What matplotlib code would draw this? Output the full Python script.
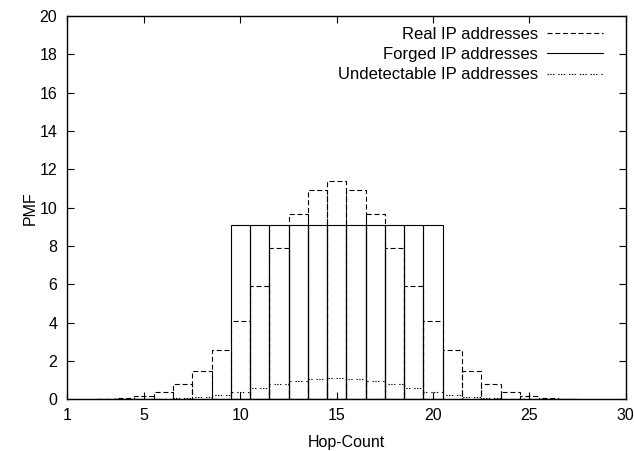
import matplotlib
matplotlib.use("Agg")
import matplotlib.pyplot as plt
from matplotlib.lines import Line2D

plt.rcParams['font.family'] = ['Liberation Sans', 'DejaVu Sans']

hops = list(range(3, 28))
real = [0.0, 0.08, 0.2, 0.4, 0.8, 1.5, 2.6, 4.1, 5.9, 7.9, 9.7, 10.9, 11.4,
        10.9, 9.7, 7.9, 5.9, 4.1, 2.6, 1.5, 0.8, 0.4, 0.2, 0.08, 0.0]
undetect = [0.0, 0.01, 0.02, 0.04, 0.08, 0.15, 0.26, 0.41, 0.59, 0.79, 0.97, 1.09, 1.14,
            1.09, 0.97, 0.79, 0.59, 0.41, 0.26, 0.15, 0.08, 0.04, 0.02, 0.01, 0.0]
forged_hops = list(range(10, 21))
forged = [9.09] * 11

x_ticks = [1, 5, 10, 15, 20, 25, 30]
y_ticks = list(range(0, 21, 2))

fig = plt.figure(figsize=(6.34, 4.51), dpi=100)
ax = fig.add_axes([0.1057, 0.1142, 0.8813, 0.8503])

lw = 0.8
ls_real = (0, (4.5, 2.5))
ls_und = (0, (1.2, 1.3, 1.2, 1.3, 1.2, 3.5))
ax.bar(hops, real, width=1, fill=False, edgecolor='black', linewidth=lw,
       linestyle=ls_real)
ax.bar(forged_hops, forged, width=1, fill=False, edgecolor='black', linewidth=lw,
       linestyle='-')
ax.bar(hops, undetect, width=1, fill=False, edgecolor='black', linewidth=lw,
       linestyle=ls_und)

fs = 11.5
lfs = 12
ax.set_xlim(1, 30)
ax.set_ylim(0, 20)
ax.set_xticks(x_ticks)
ax.set_yticks(y_ticks)
ax.tick_params(axis='both', direction='in', top=True, right=True, length=5,
               labelsize=fs, width=0.8)
ax.tick_params(axis='y', pad=7)
ax.tick_params(axis='x', pad=6)
for s in ax.spines.values():
    s.set_linewidth(1.0)
ax.set_xlabel('Hop-Count', fontsize=fs, labelpad=9)
ax.set_ylabel('PMF', fontsize=fs, labelpad=1)

handles = [Line2D([], [], color='black', lw=lw, linestyle=ls_real),
           Line2D([], [], color='black', lw=lw, linestyle='-'),
           Line2D([], [], color='black', lw=lw, linestyle=ls_und)]
labels = ['Real IP addresses', 'Forged IP addresses', 'Undetectable IP addresses']
ax.legend(handles, labels, loc='upper right', bbox_to_anchor=(0.968, 0.985),
          frameon=False, markerfirst=False,
          fontsize=lfs, handlelength=3.35, labelspacing=0.32, borderaxespad=0,
          handletextpad=0.55, borderpad=0.3)

fig.savefig('out.png', dpi=100)
